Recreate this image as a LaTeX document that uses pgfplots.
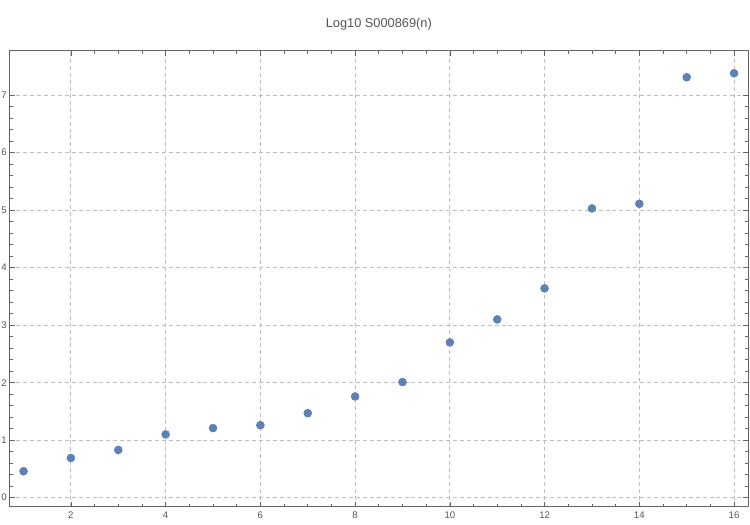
\documentclass[border=0pt]{standalone}
\usepackage{pgfplots}
\pgfplotsset{compat=1.18}
\usepackage{fontspec}
\setmainfont{Liberation Sans}
\definecolor{grid}{RGB}{255,128,0}
\definecolor{pts}{RGB}{94,129,181}
\definecolor{frame}{RGB}{100,100,100}
\definecolor{lbl}{RGB}{85,85,85}
\begin{document}
\begin{tikzpicture}
\begin{axis}[
  scale only axis,
  width=554.25pt, height=342.5pt,
  xmin=0.70, xmax=16.30, ymin=-0.16, ymax=7.78,
  xtick={2,4,...,16}, ytick={0,1,...,7},
  minor x tick num=3, minor y tick num=4,
  tick align=inside,
  major tick length=4pt, minor tick length=2.5pt,
  axis line style={frame, line width=0.6pt},
  every tick/.style={frame, line width=0.5pt},
  major grid style={grid, dash pattern=on 3pt off 2.2pt, line width=0.7pt},
  grid=major,
  tick label style={font=\fontsize{7.2}{8}\selectfont, text=lbl},
  /pgf/number format/assume math mode=true,
  xticklabel style={yshift=-0.5pt},
  yticklabel style={xshift=1.5pt},
  title={Log10 S000869(n)},
  title style={font=\fontsize{9.6}{11}\selectfont, text=lbl, at={(0.5,1)}, anchor=center, yshift=13.5pt},
]
\addplot[only marks, mark=*, mark size=3pt, pts, mark options={draw=pts, fill=pts}] coordinates {
(1,0.46) (2,0.69) (3,0.83) (4,1.10) (5,1.21) (6,1.26) (7,1.47) (8,1.76)
(9,2.01) (10,2.70) (11,3.10) (12,3.64) (13,5.03) (14,5.11) (15,7.31) (16,7.38)
};
\end{axis}
\pgfresetboundingbox
\path[use as bounding box] ([shift={(-7pt,-13.5pt)}]current axis.south west) rectangle ([shift={(1.3pt,37.7pt)}]current axis.north east);
\end{tikzpicture}
\end{document}
